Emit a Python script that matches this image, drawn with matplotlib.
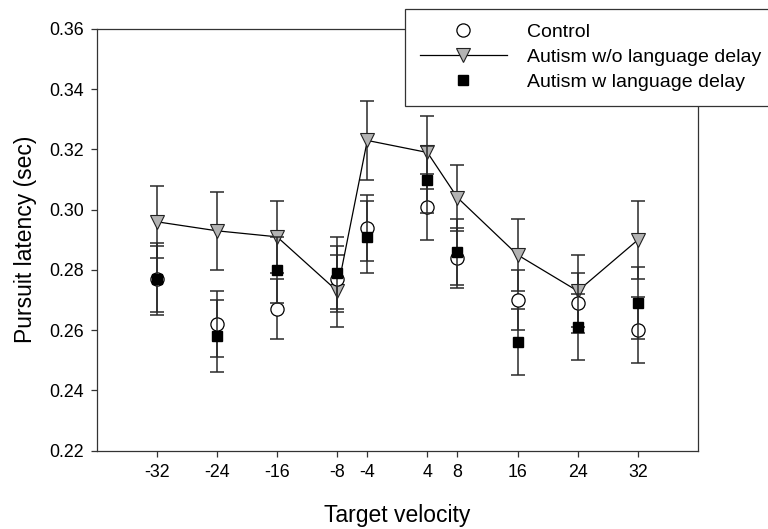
import matplotlib
matplotlib.use("Agg")
import matplotlib.pyplot as plt
from matplotlib.lines import Line2D

plt.rcParams['font.family'] = ['Liberation Sans', 'DejaVu Sans']
plt.rcParams['axes.unicode_minus'] = False

# Target velocities (x) and mean pursuit latency with error bars
velocities = [-32, -24, -16, -8, -4, 4, 8, 16, 24, 32]
tick_labels = ['-32', '-24', '-16', '-8', '-4', '4', '8', '16', '24', '32']

control = [0.277, 0.262, 0.267, 0.277, 0.294, 0.301, 0.284, 0.270, 0.269, 0.260]
control_err = [0.012, 0.011, 0.010, 0.011, 0.011, 0.011, 0.010, 0.010, 0.010, 0.011]

no_delay = [0.296, 0.293, 0.291, 0.273, 0.323, 0.319, 0.304, 0.285, 0.273, 0.290]
no_delay_err = [0.012, 0.013, 0.012, 0.012, 0.013, 0.012, 0.011, 0.012, 0.012, 0.013]

delay = [0.277, 0.258, 0.280, 0.279, 0.291, 0.310, 0.286, 0.256, 0.261, 0.269]
delay_err = [0.011, 0.012, 0.011, 0.012, 0.012, 0.011, 0.011, 0.011, 0.011, 0.012]

err_col = '#2a2a2a'

fig = plt.figure(figsize=(7.68, 5.29), dpi=100)
ax = fig.add_axes([0.1259, 0.148, 0.9089 - 0.1259, 0.9452 - 0.148])

# Autism w/o language delay (line + gray triangles)
ax.errorbar(velocities, no_delay, yerr=no_delay_err, fmt='none', ecolor=err_col,
            elinewidth=1.1, capsize=4.7, capthick=1.1, zorder=2)
ax.plot(velocities, no_delay, color='black', lw=0.9, marker='v', markersize=9.5,
        markerfacecolor='#b3b3b3', markeredgecolor='#222222', markeredgewidth=0.8, zorder=3)

# Control (open circles)
ax.errorbar(velocities, control, yerr=control_err, fmt='none', ecolor=err_col,
            elinewidth=1.1, capsize=4.7, capthick=1.1, zorder=4)
ax.plot(velocities, control, linestyle='none', marker='o', markersize=9.5,
        markerfacecolor='white', markeredgecolor='black', markeredgewidth=0.9, zorder=5)

# Autism w language delay (black squares)
ax.errorbar(velocities, delay, yerr=delay_err, fmt='none', ecolor=err_col,
            elinewidth=1.1, capsize=4.7, capthick=1.1, zorder=6)
ax.plot(velocities, delay, linestyle='none', marker='s', markersize=7.7,
        markerfacecolor='black', markeredgecolor='black', zorder=7)

ax.set_xlim(-40, 40)
ax.set_ylim(0.22, 0.36)
ax.set_xticks(velocities)
ax.set_xticklabels(tick_labels)
ax.set_yticks([0.22, 0.24, 0.26, 0.28, 0.30, 0.32, 0.34, 0.36])
ax.set_yticklabels(['0.22', '0.24', '0.26', '0.28', '0.30', '0.32', '0.34', '0.36'])
ax.tick_params(direction='out', length=4.3, width=0.9, labelsize=12.8, pad=5, color='#333333')
for sp in ax.spines.values():
    sp.set_linewidth(0.9)
    sp.set_color('#333333')

fig.text(26 / 768, 1 - 239 / 529, 'Pursuit latency (sec)', rotation=90,
         ha='center', va='center', fontsize=16.5)
fig.text(397 / 768, 1 - 521.7 / 529, 'Target velocity', ha='center',
         va='baseline', fontsize=16.5)

handles = [
    Line2D([], [], linestyle='none', marker='o', markersize=9.5, markerfacecolor='white',
           markeredgecolor='black', markeredgewidth=0.9),
    Line2D([], [], color='black', lw=0.9, marker='v', markersize=9.5,
           markerfacecolor='#b3b3b3', markeredgecolor='#222222', markeredgewidth=0.8),
    Line2D([], [], linestyle='none', marker='s', markersize=7.7, markerfacecolor='black',
           markeredgecolor='black'),
]
labels = ['Control', 'Autism w/o language delay', 'Autism w language delay']
leg = fig.legend(handles, labels, loc='upper left', bbox_to_anchor=(405 / 768, 1 - 9 / 529),
                 bbox_transform=fig.transFigure, fontsize=14, handlelength=4.5,
                 handletextpad=1.0, labelspacing=0.38, borderpad=0.75, borderaxespad=0,
                 fancybox=False, framealpha=1, edgecolor='#333333')
leg.get_frame().set_linewidth(0.9)

fig.savefig('out.png', dpi=100)
